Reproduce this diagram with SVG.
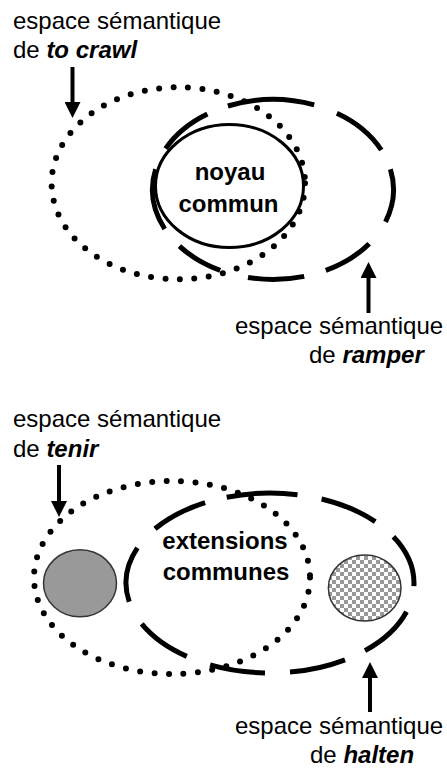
<svg xmlns="http://www.w3.org/2000/svg" width="447" height="769" viewBox="0 0 447 769">
  <style>
    .lbl { font-family: "Liberation Sans", Arial, sans-serif; font-size: 24px; fill: #000; }
    .em { font-weight: bold; font-style: italic; }
    .core { font-family: "Liberation Sans", Arial, sans-serif; font-size: 24px; font-weight: bold; fill: #000; text-anchor: middle; }
    .dotted { fill: none; stroke: #000; stroke-width: 6; stroke-linecap: round; stroke-dasharray: 0 14.5; }
    .dashed { fill: none; stroke: #000; stroke-width: 5; stroke-linecap: butt; }
    .solid { fill: none; stroke: #000; stroke-width: 3; }
    .shaft { stroke: #000; stroke-width: 4; marker-end: url(#head); }
  </style>
  <defs>
    <marker id="head" markerUnits="userSpaceOnUse" markerWidth="16" markerHeight="16" refX="2" refY="8" orient="auto">
      <path d="M0,0 L16,8 L0,16 Z" fill="#000"/>
    </marker>
    <pattern id="checker" patternUnits="userSpaceOnUse" width="8" height="8">
      <rect width="8" height="8" fill="#fff"/>
      <rect width="4" height="4" fill="#999"/>
      <rect x="4" y="4" width="4" height="4" fill="#999"/>
    </pattern>
  </defs>

  <!-- top diagram -->
  <g id="space-to-crawl">
    <ellipse class="dotted" cx="178.3" cy="183.3" rx="126.7" ry="96"/>
    <text class="lbl" x="13" y="29">espace sémantique</text>
    <text class="lbl" x="13" y="57.5">de <tspan class="em">to crawl</tspan></text>
  </g>
  <g id="space-ramper">
    <path class="dashed" d="M227.9 106 A120.5 90 0 0 1 314.2 104.9 M336.9 113.2 A120.5 90 0 0 1 381.3 150 M390.4 169.3 A120.5 90 0 0 1 385.5 221.8 M369.2 243.7 A120.5 90 0 0 1 325.8 270.4 M304.2 276.4 A120.5 90 0 0 1 248 277.5 M220.2 270.4 A120.5 90 0 0 1 179.4 246.1 M164.7 229 A120.5 90 0 0 1 155.6 169.3 M165.6 148.6 A120.5 90 0 0 1 207.4 114"/>
    <text class="lbl" x="235" y="334">espace sémantique</text>
    <text class="lbl" x="309" y="363">de <tspan class="em">ramper</tspan></text>
  </g>
  <g id="noyau-commun">
    <ellipse class="solid" cx="229.5" cy="186" rx="74" ry="61.5"/>
    <text class="core" x="230" y="180">noyau</text>
    <text class="core" x="228.5" y="211.5">commun</text>
  </g>

  <!-- bottom diagram -->
  <g id="space-tenir">
    <ellipse class="dotted" cx="172" cy="577.5" rx="138" ry="96.5"/>
    <ellipse id="tenir-only" cx="80" cy="583.3" rx="36.5" ry="33.5" fill="#999" stroke="#333" stroke-width="1.5"/>
    <text class="lbl" x="13" y="427">espace sémantique</text>
    <text class="lbl" x="13" y="457">de <tspan class="em">tenir</tspan></text>
  </g>
  <g id="space-halten">
    <path class="dashed" d="M226.7 497.2 A144 90 0 0 1 297.5 494.7 M321.6 499 A144 90 0 0 1 375.3 521.6 M393.4 536.7 A144 90 0 0 1 413.9 586.1 M406.5 611.7 A144 90 0 0 1 365 650.6 M345 659.8 A144 90 0 0 1 290 672.1 M265 672.9 A144 90 0 0 1 210.1 664.8 M186.8 656.4 A144 90 0 0 1 141.7 623.9 M129.2 601.7 A144 90 0 0 1 137.4 547.8 M155 528.8 A144 90 0 0 1 205.1 502.7"/>
    <ellipse id="halten-only" cx="364.7" cy="588" rx="36.3" ry="33" fill="url(#checker)" stroke="#333" stroke-width="1.5"/>
    <text class="lbl" x="235" y="734">espace sémantique</text>
    <text class="lbl" x="310" y="763">de <tspan class="em">halten</tspan></text>
  </g>
  <g id="extensions-communes">
    <text class="core" x="225" y="549">extensions</text>
    <text class="core" x="226" y="579.5">communes</text>
  </g>

  <g id="connectors">
    <line class="shaft" x1="72.5" y1="67" x2="72.5" y2="104"/>
    <line class="shaft" x1="368.5" y1="313" x2="368.5" y2="276"/>
    <line class="shaft" x1="59" y1="465" x2="59" y2="503"/>
    <line class="shaft" x1="370" y1="712" x2="370" y2="676"/>
  </g>
</svg>
